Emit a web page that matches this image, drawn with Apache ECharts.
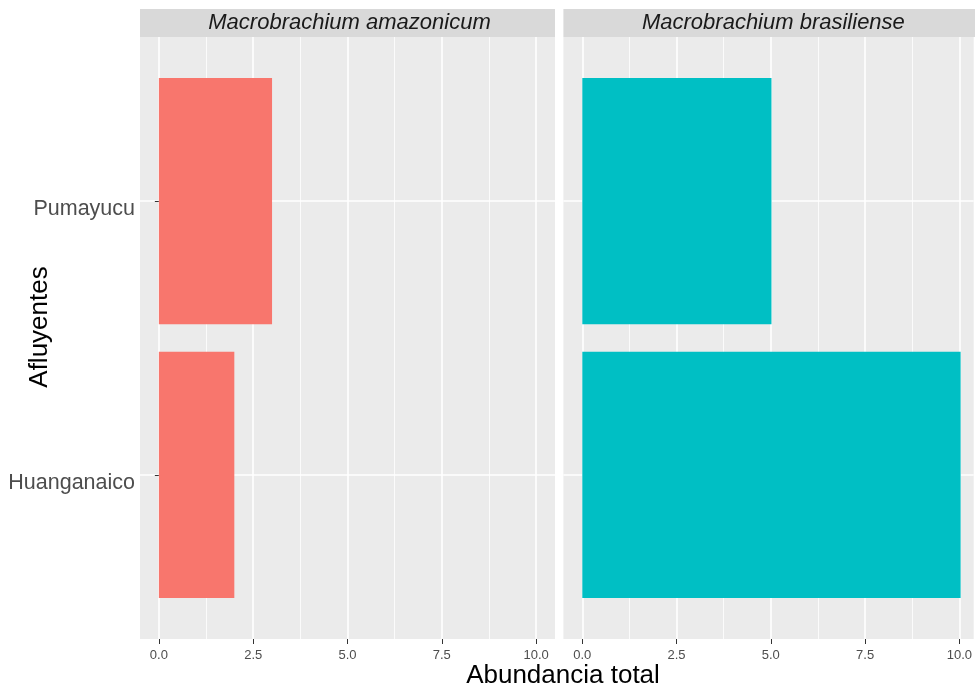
<!DOCTYPE html>
<html><head><meta charset="utf-8">
<script src="https://cdn.jsdelivr.net/npm/echarts@6/dist/echarts.min.js"></script>
<style>html,body{margin:0;padding:0;background:#fff}#c{width:975px;height:688px}</style>
</head><body><div id="c"></div>
<script>
const facets = ['Macrobrachium amazonicum', 'Macrobrachium brasiliense'];
const categories = ['Huanganaico', 'Pumayucu'];
const amazonicum = [2, 3];
const brasiliense = [10, 5];
const xTicks = [0, 2.5, 5, 7.5, 10];
const xMinor = [1.25, 3.75, 6.25, 8.75];
const yTickPos = [1, 2];
const colors = ['#F8766D', '#00BFC4'];

// panel 2 is cut at the right image edge in the reference
const panels = [{left: 140, width: 415, max: 10.5}, {left: 563.4, width: 411.6, max: 10.38}];
const TOP = 37, H = 602;
const unitH = H / 2.2;

const grid = [], xAxis = [], yAxis = [], series = [], graphic = [];
const seriesData = [amazonicum, brasiliense];
panels.forEach((p, i) => {
  const W = p.width;
  const bg = grid.length;
  grid.push({left: p.left, top: TOP, width: W, height: H, show: true, backgroundColor: '#EBEBEB', borderWidth: 0, containLabel: false});
  const bar = grid.length;
  grid.push({left: p.left, top: TOP + unitH * 0.1, width: W, height: unitH * 2, show: false, containLabel: false});
  xAxis.push({type: 'value', gridIndex: bg, position: 'bottom', min: -0.5, max: p.max,
    axisLine: {show: false},
    axisTick: {show: true, length: 5, lineStyle: {color: '#333333', width: 1}, customValues: xTicks},
    axisLabel: {show: true, customValues: xTicks, formatter: v => v.toFixed(1), color: '#4D4D4D', fontSize: 13, fontFamily: 'Liberation Sans, Arial, sans-serif', margin: 10},
    splitLine: {show: true, lineStyle: {color: '#FFFFFF', width: 1.6}}});
  xAxis.push({type: 'value', gridIndex: bg, position: 'top', min: -0.5, max: p.max,
    axisLine: {show: false}, axisTick: {show: false, customValues: xMinor}, axisLabel: {show: false, customValues: xMinor},
    splitLine: {show: true, lineStyle: {color: '#FFFFFF', width: 0.8}}});
  const bx = xAxis.length;
  xAxis.push({type: 'value', gridIndex: bar, min: -0.5, max: p.max, show: false, splitLine: {show: false}});
  yAxis.push({type: 'value', gridIndex: bg, min: 0.4, max: 2.6,
    axisLine: {show: false},
    axisTick: {show: i === 0, length: 4, lineStyle: {color: '#333333', width: 1}, customValues: yTickPos},
    axisLabel: {show: i === 0, customValues: yTickPos, formatter: v => categories[Math.round(v) - 1], color: '#4D4D4D', fontSize: 21.5, fontFamily: 'Liberation Sans, Arial, sans-serif', margin: 5, verticalAlign: 'top', lineHeight: 16},
    splitLine: {show: true, lineStyle: {color: '#FFFFFF', width: 1.6}}});
  const by = yAxis.length;
  yAxis.push({type: 'category', gridIndex: bar, data: categories, show: false, boundaryGap: true, splitLine: {show: false}});
  series.push({type: 'bar', xAxisIndex: bx, yAxisIndex: by, barWidth: '90%', data: seriesData[i],
    itemStyle: {color: colors[i]}, silent: true, z: 3});
  const sw = i === 0 ? W : 416;
  graphic.push({type: 'rect', shape: {x: p.left, y: 9, width: sw, height: 28}, style: {fill: '#D9D9D9'}, z: 1});
  graphic.push({type: 'text', x: p.left + sw / 2 + 2, y: 23, style: {text: facets[i], fill: '#1A1A1A', font: 'italic 22px "Liberation Sans", Arial, sans-serif', textAlign: 'center', textVerticalAlign: 'middle'}, z: 2});
});
graphic.push({type: 'text', x: 563, y: 676, style: {text: 'Abundancia total', fill: '#000000', font: '26px "Liberation Sans", Arial, sans-serif', textAlign: 'center', textVerticalAlign: 'middle'}});
graphic.push({type: 'text', x: 40, y: 327, rotation: Math.PI / 2, style: {text: 'Afluyentes', fill: '#000000', font: '26px "Liberation Sans", Arial, sans-serif', textAlign: 'center', textVerticalAlign: 'middle'}});

const chart = echarts.init(document.getElementById('c'), null, {renderer: 'canvas'});
chart.setOption({animation: false, backgroundColor: '#FFFFFF', grid, xAxis, yAxis, series, graphic});
</script></body></html>
